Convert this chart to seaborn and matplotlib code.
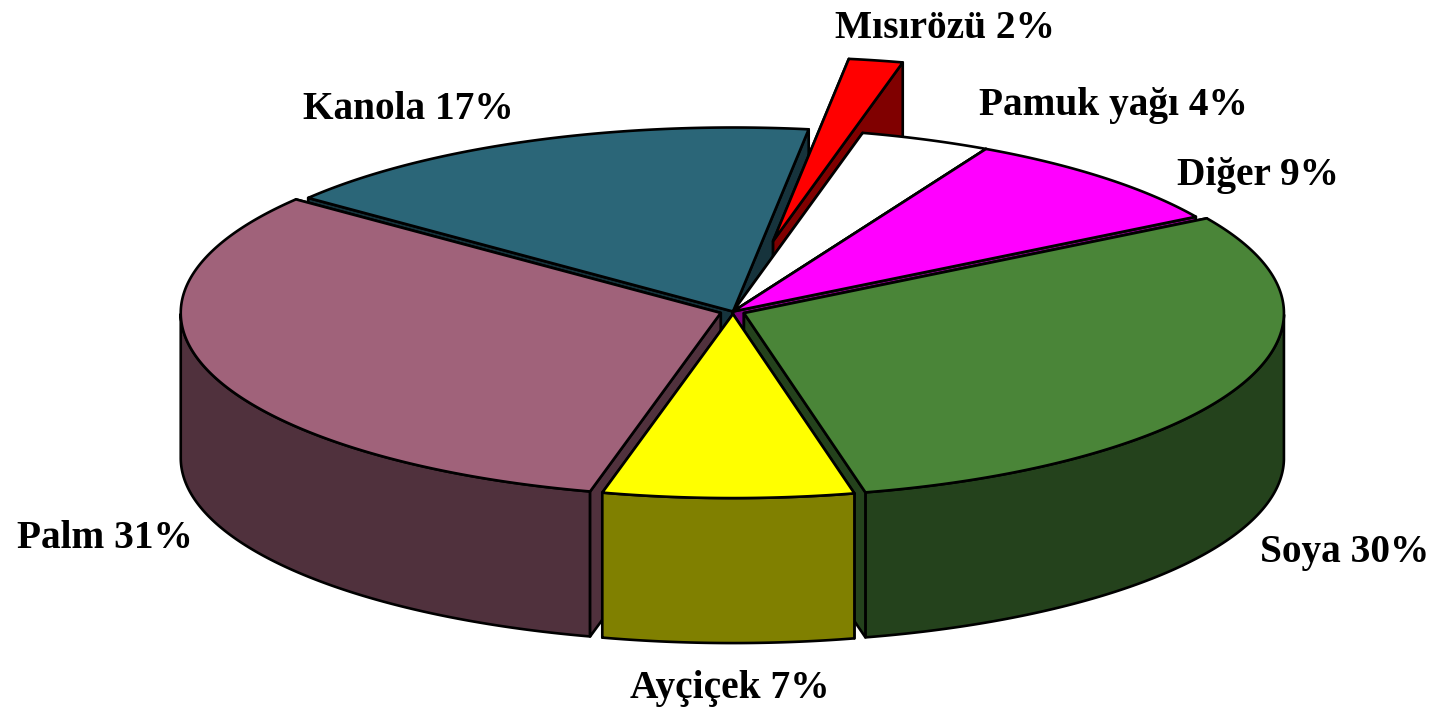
import numpy as np
import matplotlib
matplotlib.use("Agg")
import matplotlib.pyplot as plt
import seaborn as sns

# Clockwise from the right-hand edge of "Soya"
names = ["Soya", "Ayçiçek", "Palm", "Kanola", "Mısırözü", "Pamuk yağı", "Diğer"]
labels_pct = [30, 7, 31, 17, 2, 4, 9]
# Slice sizes as measured on the picture (percent of the circle)
arc_pct = [30.0, 7.5, 31.7, 16.65, 1.62, 3.9, 8.63]
explode = [0.022, 0.014, 0.024, 0.0, 0.39, 0.0, 0.0]
top_colors = ["#4A8538", "#FFFF00", "#A0627A", "#2B6678", "#FF0000", "#FFFFFF", "#FF00FF"]
side_colors = ["#24421C", "#808000", "#50313D", "#16333C", "#800000", "#808080", "#800080"]
draw_order = ["Kanola", "Mısırözü", "Pamuk yağı", "Diğer", "Palm", "Soya", "Ayçiçek"]
label_left = [1260, 630, 17, 303, 835, 979, 1177]
label_base = [562, 698, 548, 119, 38, 115, 185]

START_DEG = 31.0
CX, CY, RX, RY, DEPTH = 733.0, 311.5, 540.0, 184.0, 145.0

sns.set_theme(style="white")
plt.rcParams["font.family"] = ["Liberation Serif", "DejaVu Serif"]
top_pal = sns.color_palette(top_colors)
side_pal = sns.color_palette(side_colors)

fig, ax = plt.subplots(figsize=(14.41, 7.10), dpi=100)
ax.set_position([0, 0, 1, 1])
ax.set_xlim(0, 1441)
ax.set_ylim(710, 0)
ax.axis("off")

ends = START_DEG - np.cumsum(arc_pct) * 3.6
starts = np.r_[START_DEG, ends[:-1]]
LW = 1.9


def rim(ox, oy, deg):
    t = np.radians(deg)
    return ox + RX * np.cos(t), oy - RY * np.sin(t)


def poly(xs, ys, color, z):
    ax.fill(xs, ys, facecolor=color, edgecolor="black", linewidth=LW, joinstyle="round", zorder=z)


z = 1
for name in draw_order:
    i = names.index(name)
    a, b = starts[i], ends[i]
    mid = np.radians((a + b) / 2)
    ox = CX + explode[i] * RX * np.cos(mid)
    oy = CY - explode[i] * RY * np.sin(mid)

    def cut(deg):
        x, y = rim(ox, oy, deg)
        return [ox, x, x, ox], [oy, y, y + DEPTH, oy + DEPTH]

    front = []
    for deg, is_front in ((a, np.cos(np.radians(a)) < 0), (b, np.cos(np.radians(b)) > 0)):
        if is_front:
            front.append(deg)
        else:
            xs, ys = cut(deg)
            poly(xs, ys, side_pal[i], z)
            z += 1
    # outer wall: only where the rim faces the viewer
    t = np.linspace(a, b, 200)
    t = t[np.sin(np.radians(t)) < 0]
    if t.size:
        x, y = rim(ox, oy, t)
        poly(np.r_[x, x[::-1]], np.r_[y, (y + DEPTH)[::-1]], side_pal[i], z)
        z += 1
    for deg in front:
        xs, ys = cut(deg)
        poly(xs, ys, side_pal[i], z)
        z += 1
    t = np.linspace(a, b, 200)
    x, y = rim(ox, oy, t)
    poly(np.r_[ox, x], np.r_[oy, y], top_pal[i], z)
    z += 1

for name, pct, lx, ly in zip(names, labels_pct, label_left, label_base):
    ax.text(lx, ly, f"{name} {pct}%", ha="left", va="baseline", fontsize=28.4,
            fontweight="bold", color="black", zorder=100)

fig.savefig("out.png", dpi=100, facecolor="white")
